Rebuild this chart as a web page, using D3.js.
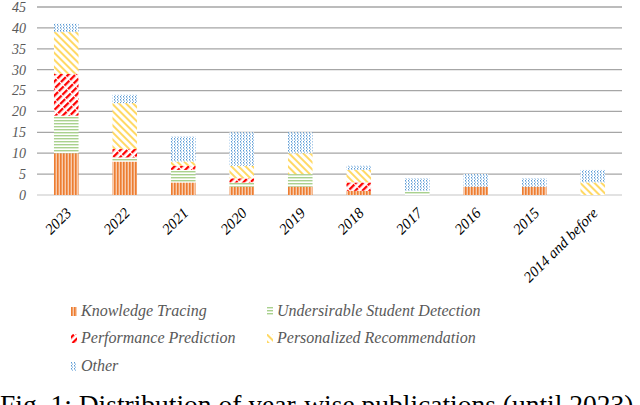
<!DOCTYPE html>
<html>
<head>
<meta charset="utf-8">
<script src="https://cdn.jsdelivr.net/npm/d3@7"></script>
<style>
  body { margin: 0; background: #fff; }
  svg { display: block; }
</style>
</head>
<body>
<script>
(function(){

    var years = ["2023", "2022", "2021", "2020", "2019", "2018", "2017", "2016", "2015", "2014 and before"];
    var seriesNames = ["Knowledge Tracing", "Undersirable Student Detection", "Performance Prediction", "Personalized Recommendation", "Other"];
    var knowledgeTracing = [10, 8, 3, 2, 2, 1, 0, 2, 2, 0];
    var studentDetection = [9, 1, 3, 1, 3, 0, 1, 0, 0, 0];
    var performancePrediction = [10, 2, 1, 1, 0, 2, 0, 0, 0, 0];
    var recommendation = [10, 11, 1, 3, 5, 3, 0, 0, 0, 3];
    var other = [2, 2, 6, 8, 5, 1, 3, 3, 2, 3];
    var yTicks = [0, 5, 10, 15, 20, 25, 30, 35, 40, 45];

    var seriesValues = [knowledgeTracing, studentDetection, performancePrediction, recommendation, other];
    var patternIds = ["pKT", "pUSD", "pPP", "pPR", "pOT"];

    var width = 640, height = 405;
    var svg = d3.select("body").append("svg")
        .attr("width", width)
        .attr("height", height);

    // fill patterns, like the Excel hatch fills
    var defs = svg.append("defs");

    var kt = defs.append("pattern").attr("id", "pKT").attr("patternUnits", "userSpaceOnUse")
        .attr("width", 3).attr("height", 3);
    kt.append("rect").attr("width", 3).attr("height", 3).attr("fill", "#F8CBAD");
    kt.append("rect").attr("width", 1.6).attr("height", 3).attr("fill", "#ED7D31");

    var usd = defs.append("pattern").attr("id", "pUSD").attr("patternUnits", "userSpaceOnUse")
        .attr("width", 3).attr("height", 3);
    usd.append("rect").attr("width", 3).attr("height", 3).attr("fill", "#fff");
    usd.append("rect").attr("width", 3).attr("height", 1.4).attr("fill", "#A9D18E");

    var pp = defs.append("pattern").attr("id", "pPP").attr("patternUnits", "userSpaceOnUse")
        .attr("width", 5).attr("height", 8).attr("patternTransform", "rotate(45)");
    pp.append("rect").attr("width", 5).attr("height", 8).attr("fill", "#fff");
    pp.append("rect").attr("width", 2.3).attr("height", 7).attr("fill", "#FF0000");

    var pr = defs.append("pattern").attr("id", "pPR").attr("patternUnits", "userSpaceOnUse")
        .attr("width", 5).attr("height", 5).attr("patternTransform", "rotate(-45)");
    pr.append("rect").attr("width", 5).attr("height", 5).attr("fill", "#fff");
    pr.append("rect").attr("width", 2).attr("height", 5).attr("fill", "#FFD966");

    var ot = defs.append("pattern").attr("id", "pOT").attr("patternUnits", "userSpaceOnUse")
        .attr("width", 3).attr("height", 3);
    ot.append("rect").attr("width", 3).attr("height", 3).attr("fill", "#fff");
    ot.append("rect").attr("width", 1).attr("height", 1.5).attr("fill", "#5B9BD5");
    ot.append("rect").attr("x", 1).attr("y", 1.5).attr("width", 1).attr("height", 1.5).attr("fill", "#9DC3E6");

    var x = d3.scaleBand()
        .domain(years)
        .range([37, 622])
        .paddingInner(0.58)
        .paddingOuter(0.29);

    var y = d3.scaleLinear()
        .domain([0, 45])
        .range([195, 7]);

    // gridlines
    svg.append("g")
        .selectAll("line")
        .data(yTicks)
        .enter()
        .append("line")
        .attr("x1", 37)
        .attr("x2", 622)
        .attr("y1", d => y(d))
        .attr("y2", d => y(d))
        .attr("stroke", d => d === 0 ? "#d9d9d9" : "#a6a6a6")
        .attr("stroke-width", 1.3);

    // y labels
    svg.append("g")
        .selectAll("text")
        .data(yTicks)
        .enter()
        .append("text")
        .attr("x", 26)
        .attr("y", d => y(d))
        .attr("dy", "0.35em")
        .attr("text-anchor", "end")
        .style("font-family", "'Liberation Serif', serif")
        .style("font-style", "italic")
        .style("font-size", "14px")
        .style("fill", "#595959")
        .text(d => d);

    // stacked data
    var table = years.map(function(yr, i){
        var row = { year: yr };
        seriesNames.forEach(function(s, j){ row[s] = seriesValues[j][i]; });
        return row;
    });
    var stacked = d3.stack().keys(seriesNames)(table);

    svg.append("g")
        .selectAll("g")
        .data(stacked)
        .enter()
        .append("g")
        .attr("fill", (d, i) => "url(#" + patternIds[i] + ")")
        .selectAll("rect")
        .data(d => d)
        .enter()
        .append("rect")
        .attr("x", d => x(d.data.year))
        .attr("width", x.bandwidth())
        .attr("y", d => y(d[1]))
        .attr("height", d => y(d[0]) - y(d[1]));

    // x labels
    svg.append("g")
        .selectAll("text")
        .data(years)
        .enter()
        .append("text")
        .attr("transform", d => "translate(" + (x(d) + x.bandwidth() / 2 + 6) + ",214) rotate(-45)")
        .attr("text-anchor", "end")
        .style("font-family", "'Liberation Serif', serif")
        .style("font-style", "italic")
        .style("font-size", "15px")
        .style("fill", "#000")
        .text(d => d);

    // legend
    var legendPos = [[71, 316], [267, 316], [71, 343], [267, 343], [71, 371]];
    var legend = svg.append("g")
        .selectAll("g")
        .data(seriesNames)
        .enter()
        .append("g")
        .attr("transform", (d, i) => "translate(" + legendPos[i][0] + "," + legendPos[i][1] + ")");

    legend.append("rect")
        .attr("x", 0)
        .attr("y", -9)
        .attr("width", 6)
        .attr("height", 9)
        .attr("fill", (d, i) => "url(#" + patternIds[i] + ")");

    legend.append("text")
        .attr("x", 10)
        .attr("y", 0)
        .style("font-family", "'Liberation Serif', serif")
        .style("font-style", "italic")
        .style("font-size", "16px")
        .style("fill", "#595959")
        .text(d => d);

    // caption, cut at the bottom edge as in the source figure
    svg.append("text")
        .attr("x", 0)
        .attr("y", 414)
        .style("font-family", "'Liberation Serif', serif")
        .style("font-size", "27.5px")
        .style("fill", "#000")
        .text("Fig. 1: Distribution of year-wise publications (until 2023)");

})();
</script>
</body>
</html>
